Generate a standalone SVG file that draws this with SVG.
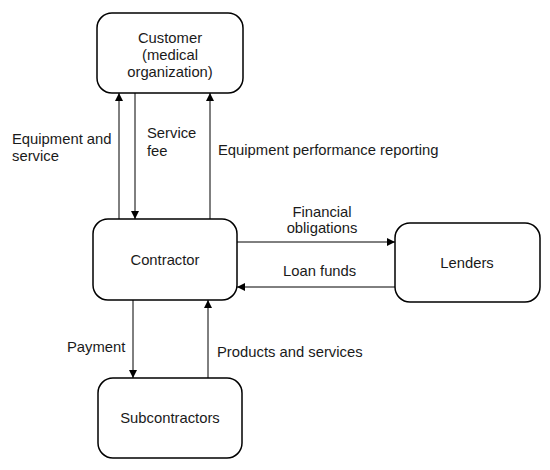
<svg xmlns="http://www.w3.org/2000/svg" width="550" height="470" viewBox="0 0 550 470">
<style>
.box{fill:#fff;stroke:#000;stroke-width:1.5}
.t{font-family:"Liberation Sans",Arial,sans-serif;font-size:14.8px;fill:#1a1a1a}
.c{text-anchor:middle}
.ln{stroke:#000;stroke-width:1;fill:none;marker-end:url(#ah)}
</style>
<defs>
<marker id="ah" viewBox="0 0 10 10" refX="10" refY="5" markerWidth="9" markerHeight="8" markerUnits="userSpaceOnUse" orient="auto">
<path d="M0,0 L10,5 L0,10 z" fill="#000"/>
</marker>
</defs>
<rect width="550" height="470" fill="#fff"/>
<g id="customer">
<rect class="box" x="97" y="13" width="146" height="80" rx="15"/>
<text class="t c" x="170" y="43">Customer</text>
<text class="t c" x="170" y="60">(medical</text>
<text class="t c" x="170" y="77">organization)</text>
</g>
<g id="contractor">
<rect class="box" x="93" y="219" width="144" height="81" rx="15"/>
<text class="t c" x="165" y="265">Contractor</text>
</g>
<g id="lenders">
<rect class="box" x="395" y="223" width="145" height="79" rx="15"/>
<text class="t c" x="467" y="268">Lenders</text>
</g>
<g id="subcontractors">
<rect class="box" x="98" y="378" width="144" height="80" rx="15"/>
<text class="t c" x="170" y="423">Subcontractors</text>
</g>
<g id="connectors">
<line class="ln" x1="119" y1="219" x2="119" y2="93"/>
<line class="ln" x1="135" y1="93" x2="135" y2="219"/>
<line class="ln" x1="210" y1="219" x2="210" y2="93"/>
<line class="ln" x1="237" y1="242" x2="395" y2="242"/>
<line class="ln" x1="395" y1="287" x2="237" y2="287"/>
<line class="ln" x1="133" y1="300" x2="133" y2="378"/>
<line class="ln" x1="208" y1="378" x2="208" y2="300"/>
<text class="t" x="12" y="144">Equipment and</text>
<text class="t" x="12" y="161">service</text>
<text class="t" x="147" y="138">Service</text>
<text class="t" x="147" y="156">fee</text>
<text class="t" x="218" y="155">Equipment performance reporting</text>
<text class="t c" x="322" y="217">Financial</text>
<text class="t c" x="322" y="233">obligations</text>
<text class="t" x="283" y="276">Loan funds</text>
<text class="t" x="67" y="352">Payment</text>
<text class="t" x="217" y="357">Products and services</text>
</g>
</svg>
